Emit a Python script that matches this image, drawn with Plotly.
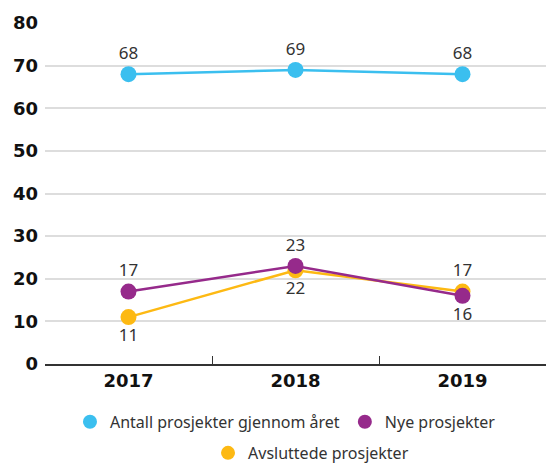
import plotly.graph_objects as go

years = ["2017", "2018", "2019"]
antall = [68, 69, 68]
nye = [17, 23, 16]
avsluttede = [11, 22, 17]

nye_pos = ["top center", "top center", "bottom center"]
avs_pos = ["bottom center", "bottom center", "top center"]

FONT = "Noto Sans"
TICKFONT = "DejaVu Sans"
BLUE, PURPLE, YELLOW = "#3BBFEF", "#962A8B", "#FDB913"

fig = go.Figure()

def add_series(name, vals, pos, color):
    fig.add_trace(go.Scatter(
        x=years, y=vals, name=name, showlegend=False,
        mode="lines+markers+text", text=[str(v) for v in vals], textposition=pos,
        line=dict(color=color, width=2.5), marker=dict(size=16, color=color),
        textfont=dict(size=17, color="#333333", family=FONT), cliponaxis=False,
        hoverinfo="skip"))

add_series("Antall prosjekter gjennom året", antall, "top center", BLUE)
add_series("Avsluttede prosjekter", avsluttede, avs_pos, YELLOW)
add_series("Nye prosjekter", nye, nye_pos, PURPLE)

# legend-only entries (markers only)
for name, color, lg in [("Antall prosjekter gjennom året", BLUE, "legend"),
                        ("Nye prosjekter", PURPLE, "legend"),
                        ("Avsluttede prosjekter", YELLOW, "legend2")]:
    fig.add_trace(go.Scatter(x=[None], y=[None], name=name, mode="markers",
                             marker=dict(size=14, color=color), legend=lg))

fig.update_layout(
    width=546, height=465,
    margin=dict(l=45, r=0, t=23, b=101, autoexpand=False),
    paper_bgcolor="white", plot_bgcolor="white",
    font=dict(family=FONT, color="#222222"),
    showlegend=True,
    legend=dict(orientation="h", x=0.48, xanchor="center", y=-0.12, yanchor="top",
                font=dict(size=16, color="#333333"), traceorder="normal",
                itemwidth=30, tracegroupgap=0),
    legend2=dict(orientation="h", x=0.531, xanchor="center", y=-0.211, yanchor="top",
                 font=dict(size=16, color="#333333"), itemwidth=30),
)
fig.update_xaxes(type="category", range=[-0.5, 2.5], showgrid=False,
                 showline=True, linecolor="#333333", linewidth=1.5,
                 ticks="inside", tickson="boundaries", ticklen=8, tickcolor="#333333",
                 tickfont=dict(size=18, color="#111111", family=TICKFONT, weight="bold"),
                 automargin=False)
fig.update_yaxes(range=[0, 80], dtick=10, showgrid=True, gridcolor="#DDDDDD", gridwidth=1.5,
                 zeroline=False, showline=False, automargin=False,
                 tickfont=dict(size=18, color="#111111", family=TICKFONT, weight="bold"),
                 ticklabelstandoff=6)

fig.write_html("out.html", config={"displayModeBar": False},
               post_script="document.body.style.margin='0';document.body.style.overflow='hidden';")
